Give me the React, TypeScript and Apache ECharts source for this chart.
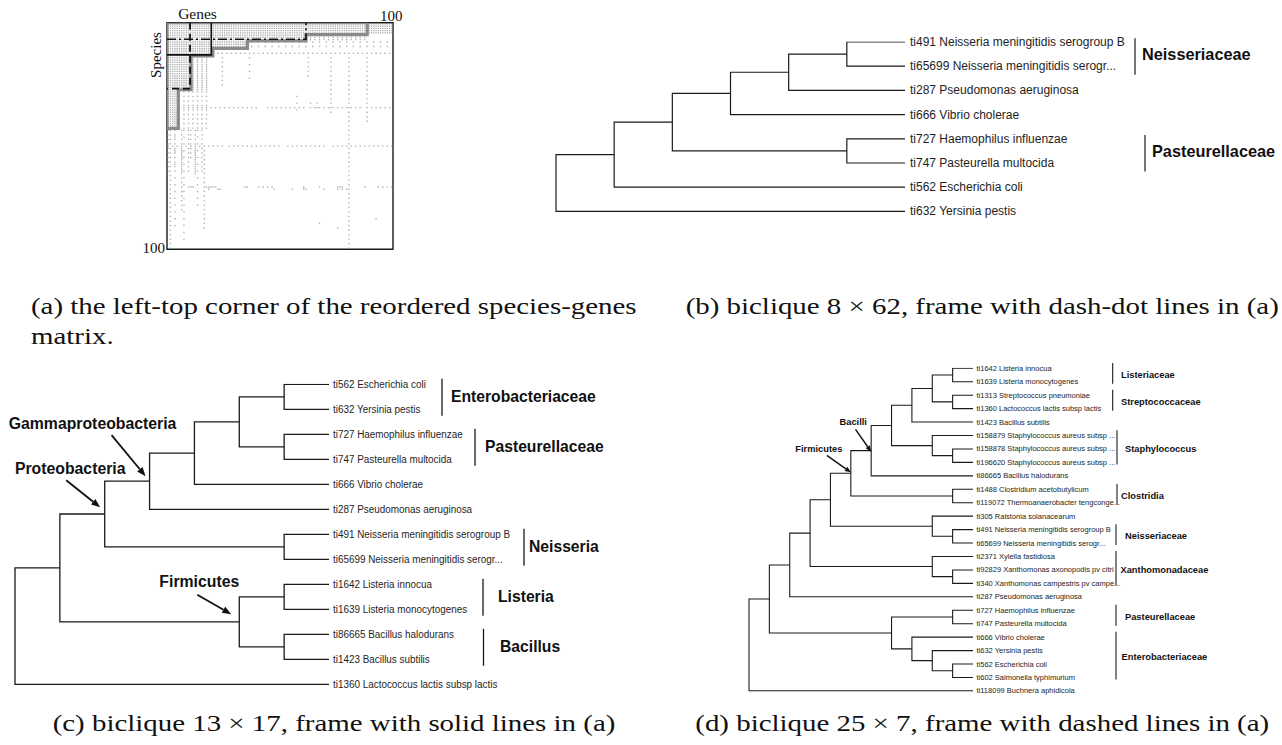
import React, { useEffect, useRef } from "react";
import * as echarts from "echarts";

type Node = [string, number, number | string, number | string];
type Family = [string, number, number];
type Clade = [string, string];

// ================= Panel (a): top-left 100 x 100 corner of the species-genes matrix =================
// [rowFrom, rowTo, colFrom, colTo] : fully filled blocks
const matrixDense: number[][] = [
  [0, 4, 0, 99], [5, 7, 0, 61], [8, 11, 0, 35], [12, 14, 0, 19], [15, 29, 0, 10], [30, 46, 0, 4],
];
// [rowFrom, rowTo, colFrom, colTo, rowStep, colStep] : stippled (partly filled) blocks
const matrixStipple: number[][] = [
  [5, 7, 63, 88, 1, 2], [8, 11, 37, 98, 2, 3], [13, 13, 20, 98, 1, 2], [15, 29, 11, 17, 1, 2],
  [30, 46, 5, 17, 2, 2], [47, 53, 0, 16, 2, 3], [55, 66, 0, 16, 2, 3],
];
// [col, rowFrom, rowTo, rowStep] : dotted gene columns
const matrixColumns: number[][] = [
  [24, 15, 27, 2], [36, 15, 25, 3], [62, 15, 24, 2], [72, 15, 40, 2], [80, 15, 99, 2], [88, 15, 43, 2],
  [57, 32, 38, 3], [63, 35, 38, 2], [66, 35, 38, 2],
  [1, 47, 99, 2], [3, 47, 90, 3], [6, 54, 83, 2], [7, 47, 97, 3], [10, 47, 60, 2], [12, 54, 66, 2],
  [13, 47, 80, 3], [16, 54, 90, 2],
];
// [row, colFrom, colTo, colStep] : dotted species rows
const matrixRows: number[][] = [
  [37, 5, 40, 2], [37, 44, 60, 2], [37, 63, 85, 2], [37, 88, 98, 2],
  [54, 0, 10, 2], [54, 14, 24, 2], [54, 27, 50, 2], [54, 53, 70, 2], [54, 73, 99, 2],
  [72, 9, 11, 1], [72, 17, 21, 1], [72, 34, 35, 1], [72, 40, 46, 2], [72, 60, 60, 1], [72, 67, 67, 1],
  [72, 75, 77, 1], [72, 87, 87, 1], [72, 93, 99, 2],
  [73, 18, 18, 1], [73, 22, 23, 1], [73, 47, 47, 1], [73, 55, 55, 1], [73, 60, 61, 1], [73, 69, 69, 1], [73, 75, 79, 2],
  [86, 92, 92, 1], [88, 67, 67, 1], [90, 75, 75, 1],
];
// biclique frames in matrix cell units [col, row]
const frameGray: number[][] = [
  [0, 0], [88.6, 0], [88.6, 5.3], [61.5, 5.3], [61.5, 8.0], [35.6, 8.0], [35.6, 11.3], [20.3, 11.3],
  [20.3, 14.7], [10.6, 14.7], [10.6, 29.6], [5, 29.6], [5, 46.6], [0, 46.6], [0, 0],
];
const frameSolid: number[][] = [[19.6, 0], [19.6, 14.2], [0, 14.2]];
const frameDashDot: number[][] = [[0, 7.3], [61.5, 7.3], [61.5, 0]];
const frameDashed: number[][] = [[10.2, 0], [10.2, 29.1], [0, 29.1]];
const matrixAxisLabels = ["Genes", "Species", "100", "100"];

// ================= Panel (b) =================
const leavesB = [
  "ti491 Neisseria meningitidis serogroup B",
  "ti65699 Neisseria meningitidis serogr...",
  "ti287 Pseudomonas aeruginosa",
  "ti666 Vibrio cholerae",
  "ti727 Haemophilus influenzae",
  "ti747 Pasteurella multocida",
  "ti562 Escherichia coli",
  "ti632 Yersinia pestis",
];
// [id, depth, childA, childB] (numbers = leaf index)
const nodesB: Node[] = [
  ["nei", 5, 0, 1], ["pas", 5, 4, 5], ["b4", 4, "nei", 2], ["b3", 3, "b4", 3],
  ["b2", 2, "b3", "pas"], ["b1", 1, "b2", 6], ["root", 0, "b1", 7],
];
const familiesB: Family[] = [["Neisseriaceae", 0, 1], ["Pasteurellaceae", 4, 5]];
const cladesB: Clade[] = [];

// ================= Panel (c) =================
const leavesC = [
  "ti562 Escherichia coli",
  "ti632 Yersinia pestis",
  "ti727 Haemophilus influenzae",
  "ti747 Pasteurella multocida",
  "ti666 Vibrio cholerae",
  "ti287 Pseudomonas aeruginosa",
  "ti491 Neisseria meningitidis serogroup B",
  "ti65699 Neisseria meningitidis serogr...",
  "ti1642 Listeria innocua",
  "ti1639 Listeria monocytogenes",
  "ti86665 Bacillus halodurans",
  "ti1423 Bacillus subtilis",
  "ti1360 Lactococcus lactis subsp lactis",
];
const nodesC: Node[] = [
  ["ent", 6, 0, 1], ["pas", 6, 2, 3], ["ep", 5, "ent", "pas"], ["epv", 4, "ep", 4], ["gamma", 3, "epv", 5],
  ["nei", 6, 6, 7], ["proteo", 2, "gamma", "nei"], ["lis", 6, 8, 9], ["bac", 6, 10, 11],
  ["firm", 5, "lis", "bac"], ["a", 1, "proteo", "firm"], ["root", 0, "a", 12],
];
const familiesC: Family[] = [
  ["Enterobacteriaceae", 0, 1], ["Pasteurellaceae", 2, 3], ["Neisseria", 6, 7], ["Listeria", 8, 9], ["Bacillus", 10, 11],
];
const cladesC: Clade[] = [["Gammaproteobacteria", "gamma"], ["Proteobacteria", "proteo"], ["Firmicutes", "firm"]];

// ================= Panel (d) =================
const leavesD = [
  "ti1642 Listeria innocua",
  "ti1639 Listeria monocytogenes",
  "ti1313 Streptococcus pneumoniae",
  "ti1360 Lactococcus lactis subsp lactis",
  "ti1423 Bacillus subtilis",
  "ti158879 Staphylococcus aureus subsp ...",
  "ti158878 Staphylococcus aureus subsp ...",
  "ti196620 Staphylococcus aureus subsp ...",
  "ti86665 Bacillus halodurans",
  "ti1488 Clostridium acetobutylicum",
  "ti119072 Thermoanaerobacter tengconge...",
  "ti305 Ralstonia solanacearum",
  "ti491 Neisseria meningitidis serogroup B",
  "ti65699 Neisseria meningitidis serogr...",
  "ti2371 Xylella fastidiosa",
  "ti92829 Xanthomonas axonopodis pv citri",
  "ti340 Xanthomonas campestris pv campe...",
  "ti287 Pseudomonas aeruginosa",
  "ti727 Haemophilus influenzae",
  "ti747 Pasteurella multocida",
  "ti666 Vibrio cholerae",
  "ti632 Yersinia pestis",
  "ti562 Escherichia coli",
  "ti602 Salmonella typhimurium",
  "ti118099 Buchnera aphidicola",
];
const nodesD: Node[] = [
  ["lis", 10, 0, 1], ["str", 10, 2, 3], ["ls", 9, "lis", "str"], ["lsb", 8, "ls", 4],
  ["s2", 10, 6, 7], ["sta", 9, 5, "s2"], ["bb", 7, "lsb", "sta"], ["bacilli", 6, "bb", 8],
  ["clo", 10, 9, 10], ["firm", 5, "bacilli", "clo"],
  ["nei", 10, 12, 13], ["rn", 9, 11, "nei"], ["n4", 4, "firm", "rn"],
  ["x2", 10, 15, 16], ["xan", 9, 14, "x2"], ["n3", 3, "n4", "xan"], ["n2", 2, "n3", 17],
  ["pas", 10, 18, 19], ["e3", 10, 22, 23], ["e2", 9, 21, "e3"], ["ent", 8, 20, "e2"], ["pe", 7, "pas", "ent"],
  ["n1", 1, "n2", "pe"], ["root", 0, "n1", 24],
];
const familiesD: Family[] = [
  ["Listeriaceae", 0, 1], ["Streptococcaceae", 2, 3], ["Staphylococcus", 5, 7], ["Clostridia", 9, 10],
  ["Neisseriaceae", 12, 13], ["Xanthomonadaceae", 14, 16], ["Pasteurellaceae", 18, 19], ["Enterobacteriaceae", 20, 23],
];
const cladesD: Clade[] = [["Bacilli", "bacilli"], ["Firmicutes", "firm"]];

// ================= Captions =================
const captionA = ["(a) the left-top corner of the reordered species-genes", "matrix."];
const captionB = "(b) biclique 8 \u00d7 62, frame with dash-dot lines in (a)";
const captionC = "(c) biclique 13 \u00d7 17, frame with solid lines in (a)";
const captionD = "(d) biclique 25 \u00d7 7, frame with dashed lines in (a)";

// ================= Layout (pixels) =================
const SANS = '"Liberation Sans", Arial, Helvetica, sans-serif';
const SERIF = '"Liberation Serif", "Times New Roman", serif';
const CAP_SIZE = 23.5;
const CAP_A_WIDTH = 606;

const GRIDS = [
  { left: 167, top: 22.7, width: 226, height: 226.6 },
  { left: 556, top: 42, width: 349, height: 169.4 },
  { left: 15, top: 384.3, width: 314, height: 300 },
  { left: 749, top: 368.3, width: 224, height: 322.6 },
];
// family label layout: [bracket dx from leaf end, text dx from leaf end]
const famLayoutB = [[230, 237], [240, 247]];
const famLayoutC = [[113, 122], [146, 156], [195, 200], [154, 169], [154.5, 171]];
const famLayoutD = [[139.7, 148], [139.7, 148], [144, 152], [144, 148], [143, 152], [143, 147.5], [143, 152], [143, 148.5]];
// clade annotation layout relative to node: [textDx, textDy, arrowStartDx, arrowStartDy, arrowEndDx, arrowEndDy]
const cladeLayoutC = [[-57, -57.4, -38, -46, -4, -5], [-34.5, -45.2, -38.5, -33.7, -4.5, -6.7], [-40, -40.5, -42, -27, -8, -7.5]];
const cladeLayoutD = [[-18, -29, -15.7, -21.3, 0, 1], [-32, -24.5, -24, -18, 0, -1]];

interface TreeCfg {
  idx: number; depth: number; lineW: number; leafFont: number; leafScale: number; leafGap: number;
  famFont: number; famPad: number[]; famLineW: number; cladeFont: number; arrowW: number; headLen: number; headW: number;
}
const cfgB: TreeCfg = { idx: 1, depth: 6, lineW: 1.2, leafFont: 12, leafScale: 1, leafGap: 5, famFont: 16.3, famPad: [0.16, 0.35], famLineW: 1.2, cladeFont: 16, arrowW: 1.6, headLen: 8, headW: 6 };
const cfgC: TreeCfg = { idx: 2, depth: 7, lineW: 1.3, leafFont: 11, leafScale: 0.9, leafGap: 4, famFont: 15.7, famPad: [0.22, 0.26], famLineW: 1.3, cladeFont: 15.8, arrowW: 1.8, headLen: 9, headW: 7 };
const cfgD: TreeCfg = { idx: 3, depth: 11, lineW: 1.1, leafFont: 7.5, leafScale: 1, leafGap: 3.5, famFont: 9.3, famPad: [0.4, 0.15], famLineW: 1.1, cladeFont: 9.3, arrowW: 1.4, headLen: 6, headW: 5 };

function matrixCells(): number[][] {
  const seen = new Set<number>();
  const out: number[][] = [];
  const add = (r: number, c: number) => {
    if (r < 0 || r > 99 || c < 0 || c > 99) return;
    const k = r * 100 + c;
    if (seen.has(k)) return;
    seen.add(k);
    out.push([c + 0.5, r + 0.5]);
  };
  matrixDense.forEach(([r0, r1, c0, c1]) => { for (let r = r0; r <= r1; r++) for (let c = c0; c <= c1; c++) add(r, c); });
  matrixStipple.forEach(([r0, r1, c0, c1, rs, cs]) => { for (let r = r0; r <= r1; r += rs) for (let c = c0; c <= c1; c += cs) add(r, c); });
  matrixColumns.forEach(([c, r0, r1, s]) => { for (let r = r0; r <= r1; r += s) add(r, c); });
  matrixRows.forEach(([r, c0, c1, s]) => { for (let c = c0; c <= c1; c += s) add(r, c); });
  return out;
}

function buildTree(cfg: TreeCfg, leaves: string[], nodes: Node[], families: Family[], clades: Clade[], famLayout: number[][], cladeLayout: number[][]) {
  const pos: Record<string, number[]> = {};
  const yOf = (c: number | string) => (typeof c === "number" ? c : pos[c][1]);
  const dOf = (c: number | string) => (typeof c === "number" ? cfg.depth : pos[c][0]);
  nodes.forEach(([id, d, a, b]) => { pos[id] = [d, (yOf(a) + yOf(b)) / 2]; });
  const branches = nodes.map(([, d, a, b]) => ({
    coords: [[dOf(a), yOf(a)], [d, yOf(a)], [d, yOf(b)], [dOf(b), yOf(b)]],
  }));
  const ax = { xAxisIndex: cfg.idx, yAxisIndex: cfg.idx };
  const series: any[] = [
    {
      type: "lines", coordinateSystem: "cartesian2d", ...ax, polyline: true, silent: true, z: 2,
      lineStyle: { color: "#1a1a1a", width: cfg.lineW, opacity: 1 },
      data: branches,
    },
    {
      type: "custom", ...ax, silent: true, z: 3,
      data: leaves.map((_, i) => [cfg.depth, i]),
      renderItem: (params: any, api: any) => {
        const p = api.coord([api.value(0), api.value(1)]);
        return {
          type: "text", x: p[0] + cfg.leafGap, y: p[1], scaleX: cfg.leafScale,
          style: { text: leaves[params.dataIndex], fontSize: cfg.leafFont, fontFamily: SANS, fill: "#1e1e1e", align: "left", verticalAlign: "middle" },
        };
      },
    },
    {
      type: "custom", ...ax, silent: true, z: 3,
      data: families.map((f) => [cfg.depth, f[1], f[2]]),
      renderItem: (params: any, api: any) => {
        const f = families[params.dataIndex];
        const L = famLayout[params.dataIndex];
        const p1 = api.coord([cfg.depth, f[1]]);
        const p2 = api.coord([cfg.depth, f[2]]);
        const sp = Math.abs(api.coord([cfg.depth, f[1] + 1])[1] - p1[1]);
        const bx = p1[0] + L[0];
        return {
          type: "group",
          children: [
            { type: "line", shape: { x1: bx, y1: p1[1] - cfg.famPad[0] * sp, x2: bx, y2: p2[1] + cfg.famPad[1] * sp }, style: { stroke: "#1a1a1a", lineWidth: cfg.famLineW } },
            { type: "text", x: p1[0] + L[1], y: (p1[1] + p2[1]) / 2, style: { text: f[0], fontSize: cfg.famFont, fontWeight: "bold", fontFamily: SANS, fill: "#111", align: "left", verticalAlign: "middle" } },
          ],
        };
      },
    },
  ];
  if (clades.length) {
    series.push({
      type: "custom", ...ax, silent: true, z: 4,
      data: clades.map(([, id]) => pos[id]),
      renderItem: (params: any, api: any) => {
        const c = clades[params.dataIndex];
        const L = cladeLayout[params.dataIndex];
        const p = api.coord([api.value(0), api.value(1)]);
        const sx = p[0] + L[2], sy = p[1] + L[3], ex = p[0] + L[4], ey = p[1] + L[5];
        const dx = ex - sx, dy = ey - sy;
        const len = Math.hypot(dx, dy) || 1;
        const ux = dx / len, uy = dy / len;
        const hx = ex - ux * cfg.headLen, hy = ey - uy * cfg.headLen;
        const px = (-uy * cfg.headW) / 2, py = (ux * cfg.headW) / 2;
        return {
          type: "group",
          children: [
            { type: "text", x: p[0] + L[0], y: p[1] + L[1], style: { text: c[0], fontSize: cfg.cladeFont, fontWeight: "bold", fontFamily: SANS, fill: "#111", align: "center", verticalAlign: "middle" } },
            { type: "line", shape: { x1: sx, y1: sy, x2: hx, y2: hy }, style: { stroke: "#111", lineWidth: cfg.arrowW } },
            { type: "polygon", shape: { points: [[ex, ey], [hx + px, hy + py], [hx - px, hy - py]] }, style: { fill: "#111" } },
          ],
        };
      },
    });
  }
  return series;
}

function buildOption(capScale: number, capBWidth: number) {
  const maxes = [[100, 100], [6, 7], [7, 12], [11, 24]];
  const grid = GRIDS.map((g, i) => ({
    ...g, outerBoundsMode: "none", containLabel: false,
    show: i === 0, borderColor: "#1a1a1a", borderWidth: 1.4, backgroundColor: "transparent",
  }));
  const xAxis = maxes.map((m, i) => ({ gridIndex: i, type: "value", min: 0, max: m[0], show: false }));
  const yAxis = maxes.map((m, i) => ({ gridIndex: i, type: "value", min: 0, max: m[1], inverse: true, show: false }));

  const capBRight = 1279;
  const capBCenter = capBRight - capBWidth / 2;
  const capStyle = { fontSize: CAP_SIZE, fontFamily: SERIF, fill: "#111", verticalAlign: "middle" };

  return {
    animation: false,
    backgroundColor: "#ffffff",
    grid, xAxis, yAxis,
    series: [
      {
        type: "scatter", xAxisIndex: 0, yAxisIndex: 0, silent: true, z: 1,
        symbol: "rect", symbolSize: 1.35,
        itemStyle: { color: "#9a9a9a" },
        data: matrixCells(),
      },
      {
        type: "lines", coordinateSystem: "cartesian2d", xAxisIndex: 0, yAxisIndex: 0, polyline: true, silent: true, z: 3,
        data: [
          { coords: frameGray, lineStyle: { color: "#8a8a8a", width: 3.2, opacity: 1, type: "solid" } },
          { coords: frameSolid, lineStyle: { color: "#111", width: 1.6, opacity: 1, type: "solid" } },
          { coords: frameDashDot, lineStyle: { color: "#111", width: 1.6, opacity: 1, type: [9, 3, 2, 3] } },
          { coords: frameDashed, lineStyle: { color: "#111", width: 1.8, opacity: 1, type: [7, 4] } },
        ],
      },
      ...buildTree(cfgB, leavesB, nodesB, familiesB, cladesB, famLayoutB, []),
      ...buildTree(cfgC, leavesC, nodesC, familiesC, cladesC, famLayoutC, cladeLayoutC),
      ...buildTree(cfgD, leavesD, nodesD, familiesD, cladesD, famLayoutD, cladeLayoutD),
    ],
    graphic: {
      elements: [
        { type: "text", x: 197.5, y: 13, style: { text: matrixAxisLabels[0], fontSize: 15.5, fontFamily: SERIF, fill: "#111", align: "center", verticalAlign: "middle" } },
        { type: "text", x: 156, y: 55, rotation: Math.PI / 2, style: { text: matrixAxisLabels[1], fontSize: 15, fontFamily: SERIF, fill: "#111", align: "center", verticalAlign: "middle" } },
        { type: "text", x: 380, y: 16, style: { text: matrixAxisLabels[2], fontSize: 15, fontFamily: SERIF, fill: "#111", align: "left", verticalAlign: "middle" } },
        { type: "text", x: 165, y: 248, style: { text: matrixAxisLabels[3], fontSize: 15, fontFamily: SERIF, fill: "#111", align: "right", verticalAlign: "middle" } },
        { type: "text", x: 31, y: 306, scaleX: capScale, style: { ...capStyle, text: captionA[0], align: "left" } },
        { type: "text", x: 31, y: 336, scaleX: capScale, style: { ...capStyle, text: captionA[1], align: "left" } },
        { type: "text", x: capBCenter, y: 306, scaleX: capScale, style: { ...capStyle, text: captionB, align: "center" } },
        { type: "text", x: 334, y: 723, scaleX: capScale, style: { ...capStyle, text: captionC, align: "center" } },
        { type: "text", x: capBCenter, y: 723, scaleX: capScale, style: { ...capStyle, text: captionD, align: "center" } },
      ],
    },
  };
}

export default function App() {
  const ref = useRef<HTMLDivElement>(null);
  useEffect(() => {
    if (!ref.current) return;
    const ctx = document.createElement("canvas").getContext("2d");
    let capScale = 1.05;
    let capBWidth = 590;
    if (ctx) {
      ctx.font = `${CAP_SIZE}px "Liberation Serif"`;
      const wA = ctx.measureText(captionA[0]).width;
      if (wA > 0) capScale = CAP_A_WIDTH / wA;
      capBWidth = ctx.measureText(captionB).width * capScale;
    }
    const chart = echarts.init(ref.current, null, { renderer: "svg" });
    chart.setOption(buildOption(capScale, capBWidth) as any);
    return () => chart.dispose();
  }, []);
  return (
    <div
      ref={ref}
      style={{ position: "fixed", left: 0, top: 0, width: 1282, height: 745, background: "#fff" }}
    />
  );
}
